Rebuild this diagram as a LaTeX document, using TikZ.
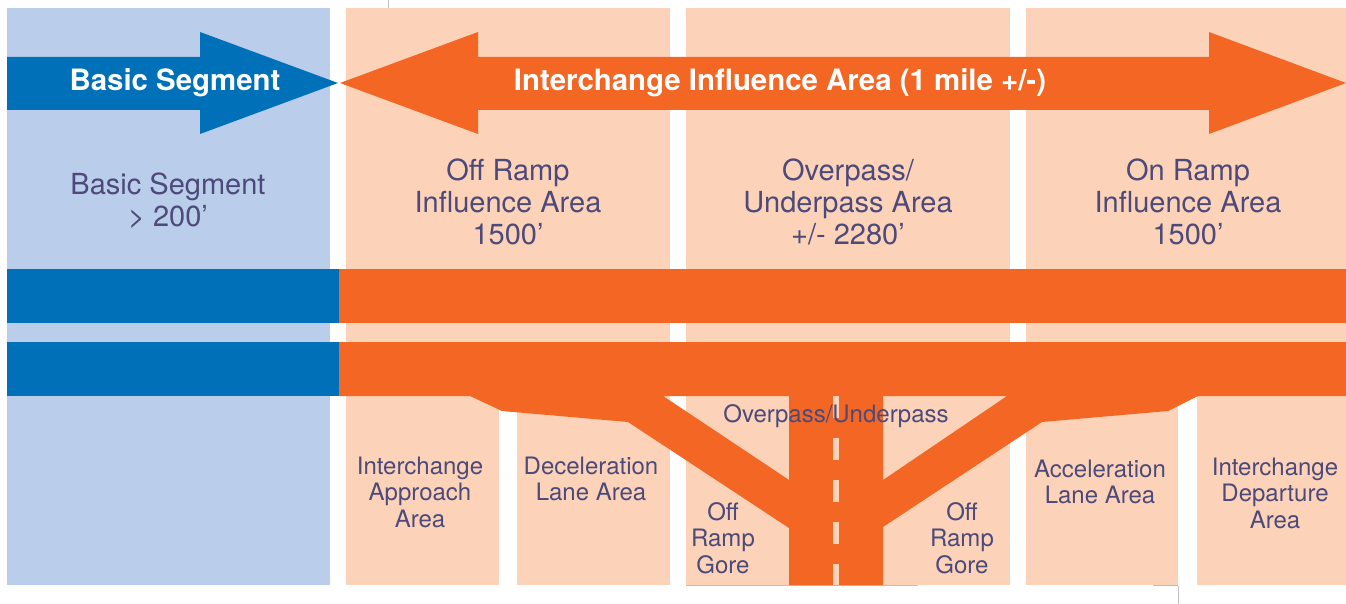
\documentclass[tikz,border=0pt]{standalone}
\usepackage{fontspec}
\setmainfont{TeX Gyre Heros}

\definecolor{zoneblue}{RGB}{186,205,234}
\definecolor{roadblue}{RGB}{0,113,185}
\definecolor{roadorange}{RGB}{243,102,35}
\definecolor{peach}{RGB}{252,211,184}
\definecolor{labelink}{RGB}{76,74,122}

\begin{document}
\begin{tikzpicture}[x=1pt,y=-1pt,
    banner/.style={font=\fontsize{29.4}{32}\selectfont\bfseries,text=white},
    biglabel/.style={font=\fontsize{29}{32}\selectfont,text=labelink,align=center},
    smalllabel/.style={font=\fontsize{24}{26.5}\selectfont,text=labelink,align=center},
    cropline/.style={draw=black!25,line width=1pt}]

      \useasboundingbox (0,0) rectangle (1346,604);

      % zones
      \fill[zoneblue] (7,8) rectangle (330,585);
      \fill[peach] (346,8) rectangle (670,396);
      \fill[peach] (686,8) rectangle (1010,585);
      \fill[peach] (1026,8) rectangle (1346,396);
      \fill[peach] (346,396) rectangle (499,585);
      \fill[peach] (517,396) rectangle (670,585);
      \fill[peach] (1026,396) rectangle (1178,585);
      \fill[peach] (1197,396) rectangle (1346,585);

      \draw[cropline] (388,0) -- (388,8);
      \draw[cropline] (686,585.5) -- (918,585.5);
      \draw[cropline] (1153,585.5) -- (1178,585.5);
      \draw[cropline] (1178,585.5) -- (1178,604);

      % big arrows
      \fill[roadblue] (7,57) -- (200,57) -- (200,32) -- (338,83) -- (200,134) -- (200,110) -- (7,110) -- cycle;
      \fill[roadorange] (340,83) -- (478,32) -- (478,57) -- (1209,57) -- (1209,32) -- (1346,83)
            -- (1209,134) -- (1209,110) -- (478,110) -- (478,134) -- cycle;

      % roads
      \fill[roadblue] (7,269) rectangle (339,323);
      \fill[roadorange] (339,269) rectangle (1346,323);
      \fill[roadblue] (7,342) rectangle (339,396);
      \fill[roadorange,even odd rule] (339,342) -- (1346,342) -- (1346,396) -- (1198,396) -- (1168,411)
            -- (1042,422) -- (883,527) -- (883,585) -- (789,585) -- (789,528) -- (628,422)
            -- (502,411) -- (470,396) -- (339,396) -- cycle
            (663,396) -- (789,396) -- (789,480) -- cycle
            (883,396) -- (1007,396) -- (883,480) -- cycle;
      \draw[peach,line width=5.5pt,dash pattern=on 22pt off 20pt] (836,396) -- (836,585);

      % labels
      \node[banner] (basicarrow) at (175,83) {Basic Segment};
      \node[banner] (influencearrow) at (780,83) {Interchange Influence Area (1 mile +/-)};

      \node[biglabel] (basic) at (168,201) {Basic Segment\\> 200’};
      \node[biglabel] (offinfluence) at (508,202) {Off Ramp\\Influence Area\\1500’};
      \node[biglabel] (overarea) at (848,202) {Overpass/\\Underpass Area\\+/- 2280’};
      \node[biglabel] (oninfluence) at (1188,202) {On Ramp\\Influence Area\\1500’};

      \node[smalllabel] (approach) at (420,492) {Interchange\\Approach\\Area};
      \node[smalllabel] (decel) at (591,479) {Deceleration\\Lane Area};
      \node[smalllabel] (goreleft) at (723,538) {Off\\Ramp\\Gore};
      \node[smalllabel] (goreright) at (962,538) {Off\\Ramp\\Gore};
      \node[smalllabel] (underpass) at (836,416) {Overpass/Underpass};
      \node[smalllabel] (accel) at (1100,482) {Acceleration\\Lane Area};
      \node[smalllabel] (depart) at (1275,493) {Interchange\\Departure\\Area};
    \end{tikzpicture}
\end{document}
